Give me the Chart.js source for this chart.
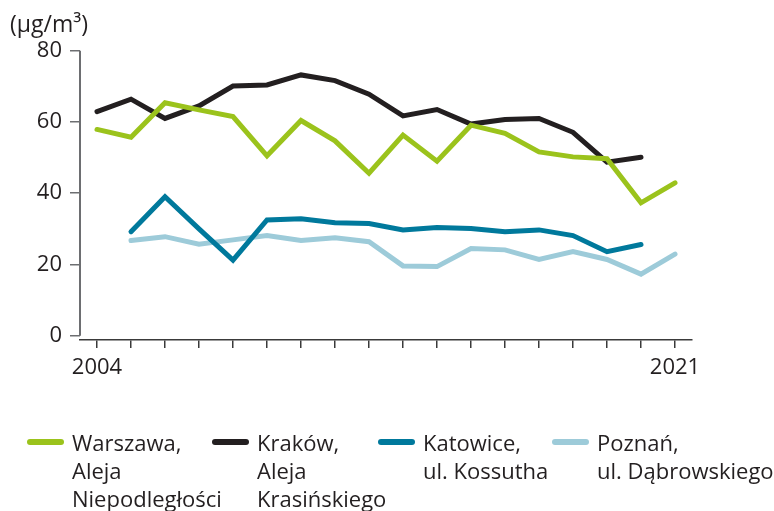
<!DOCTYPE html>
<html>
<head>
<meta charset="utf-8">
<script src="https://cdn.jsdelivr.net/npm/chart.js@4.4.0/dist/chart.umd.min.js"></script>
<style>
  html,body{margin:0;padding:0;background:#fff;}
  #wrap{position:relative;width:774px;height:511px;}
  #legend{position:absolute;left:27px;top:428px;display:grid;
    grid-template-columns:185px 166px 174px auto;
    font:22px 'Open Sans',sans-serif;color:#231f20;line-height:28px;}
  .item{display:flex;align-items:flex-start;}
  .sw{width:37px;height:6px;border-radius:3px;margin-top:11px;margin-right:8px;flex:none;}
</style>
</head>
<body>
<div id="wrap">
  <canvas id="chart" width="774" height="511"></canvas>
  <div id="legend"></div>
</div>
<script>
/* ---- data ---- */
const years    = ['2004','2005','2006','2007','2008','2009','2010','2011','2012',
                  '2013','2014','2015','2016','2017','2018','2019','2020','2021'];
const warszawa = [57.9,55.7,65.4,63.4,61.5,50.5,60.4,54.7,45.6,56.3,49.0,59.1,56.8,51.6,50.2,49.7,37.3,42.9];
const krakow   = [62.9,66.4,61.0,64.5,70.1,70.4,73.2,71.6,67.8,61.7,63.5,59.4,60.7,61.0,57.1,48.7,50.1,null];
const katowice = [null,29.2,39.0,30.0,21.2,32.5,32.8,31.7,31.5,29.7,30.4,30.1,29.2,29.7,28.1,23.6,25.6,null];
const poznan   = [null,26.7,27.8,25.7,26.9,28.1,26.7,27.5,26.4,19.6,19.4,24.5,24.1,21.4,23.6,21.4,17.3,22.9];
const seriesNames = [
  ['Warszawa,','Aleja','Niepodległości'],
  ['Kraków,','Aleja','Krasińskiego'],
  ['Katowice,','ul. Kossutha'],
  ['Poznań,','ul. Dąbrowskiego']
];
const yTicks   = [0,20,40,60,80];
const unit     = '(µg/m³)';

const colors = ['#9bc31c','#231f20','#00799c','#9dcbd9'];
const FONT = "'Open Sans', sans-serif";
const TXT  = '#231f20';

/* ---- y axis line only between 0 and 80 ---- */
const yAxisLine = {
  id:'yAxisLine',
  afterDraw(chart){
    const {ctx, scales:{y}} = chart;
    ctx.save();
    ctx.strokeStyle='#6d6e71'; ctx.lineWidth=2;
    ctx.beginPath();
    ctx.moveTo(y.right, y.getPixelForValue(yTicks[yTicks.length-1]));
    ctx.lineTo(y.right, y.getPixelForValue(yTicks[0]));
    ctx.stroke();
    ctx.restore();
  }
};

const datasets = [warszawa,krakow,katowice,poznan].map((d,i)=>({
  label: seriesNames[i].join(' '),
  data: d,
  borderColor: colors[i],
  backgroundColor: colors[i],
  borderWidth: 5,
  pointRadius: 0,
  tension: 0,
  borderCapStyle: 'round',
  borderJoinStyle: 'miter'
}));

new Chart(document.getElementById('chart'),{
  type:'line',
  data:{ labels: years, datasets },
  plugins:[yAxisLine],
  options:{
    responsive:false,
    animation:false,
    layout:{ padding:{ left:10, right:82, top:0, bottom:0 } },
    plugins:{
      legend:{ display:false },
      tooltip:{ enabled:false },
      title:{
        display:true, text:unit, align:'start', color:TXT,
        font:{ family:FONT, size:23, weight:'normal', lineHeight:1.2 },
        padding:{ top:12, bottom:11.1 }
      }
    },
    scales:{
      x:{
        type:'category',
        offset:true,
        grid:{ display:true, drawOnChartArea:false, drawTicks:true, tickLength:8,
               offset:false, color:'#3a3a3a', lineWidth:1.5 },
        border:{ display:true, color:'#3a3a3a', width:1.5 },
        ticks:{
          autoSkip:false, maxRotation:0, padding:7, color:TXT,
          font:{ family:FONT, size:22 },
          callback:(v,i)=> (i===0 || i===years.length-1) ? years[i] : ''
        },
        afterFit:s=>{ s.height = 171; }
      },
      y:{
        min:-1.2, max:80,
        afterBuildTicks:s=>{ s.ticks = yTicks.map(v=>({value:v})); },
        afterFit:s=>{ s.width = 70; },
        grid:{ display:true, drawOnChartArea:false, drawTicks:true, tickLength:10,
               color:'#6d6e71', lineWidth:1.5 },
        border:{ display:false },
        ticks:{ padding:8, color:TXT, font:{ family:FONT, size:22 } }
      }
    }
  }
});

/* ---- HTML legend ---- */
const leg = document.getElementById('legend');
seriesNames.forEach((lines,i)=>{
  const it = document.createElement('div'); it.className='item';
  const sw = document.createElement('span'); sw.className='sw'; sw.style.background=colors[i];
  const tx = document.createElement('div'); tx.innerHTML = lines.join('<br>');
  it.appendChild(sw); it.appendChild(tx); leg.appendChild(it);
});
</script>
</body>
</html>
